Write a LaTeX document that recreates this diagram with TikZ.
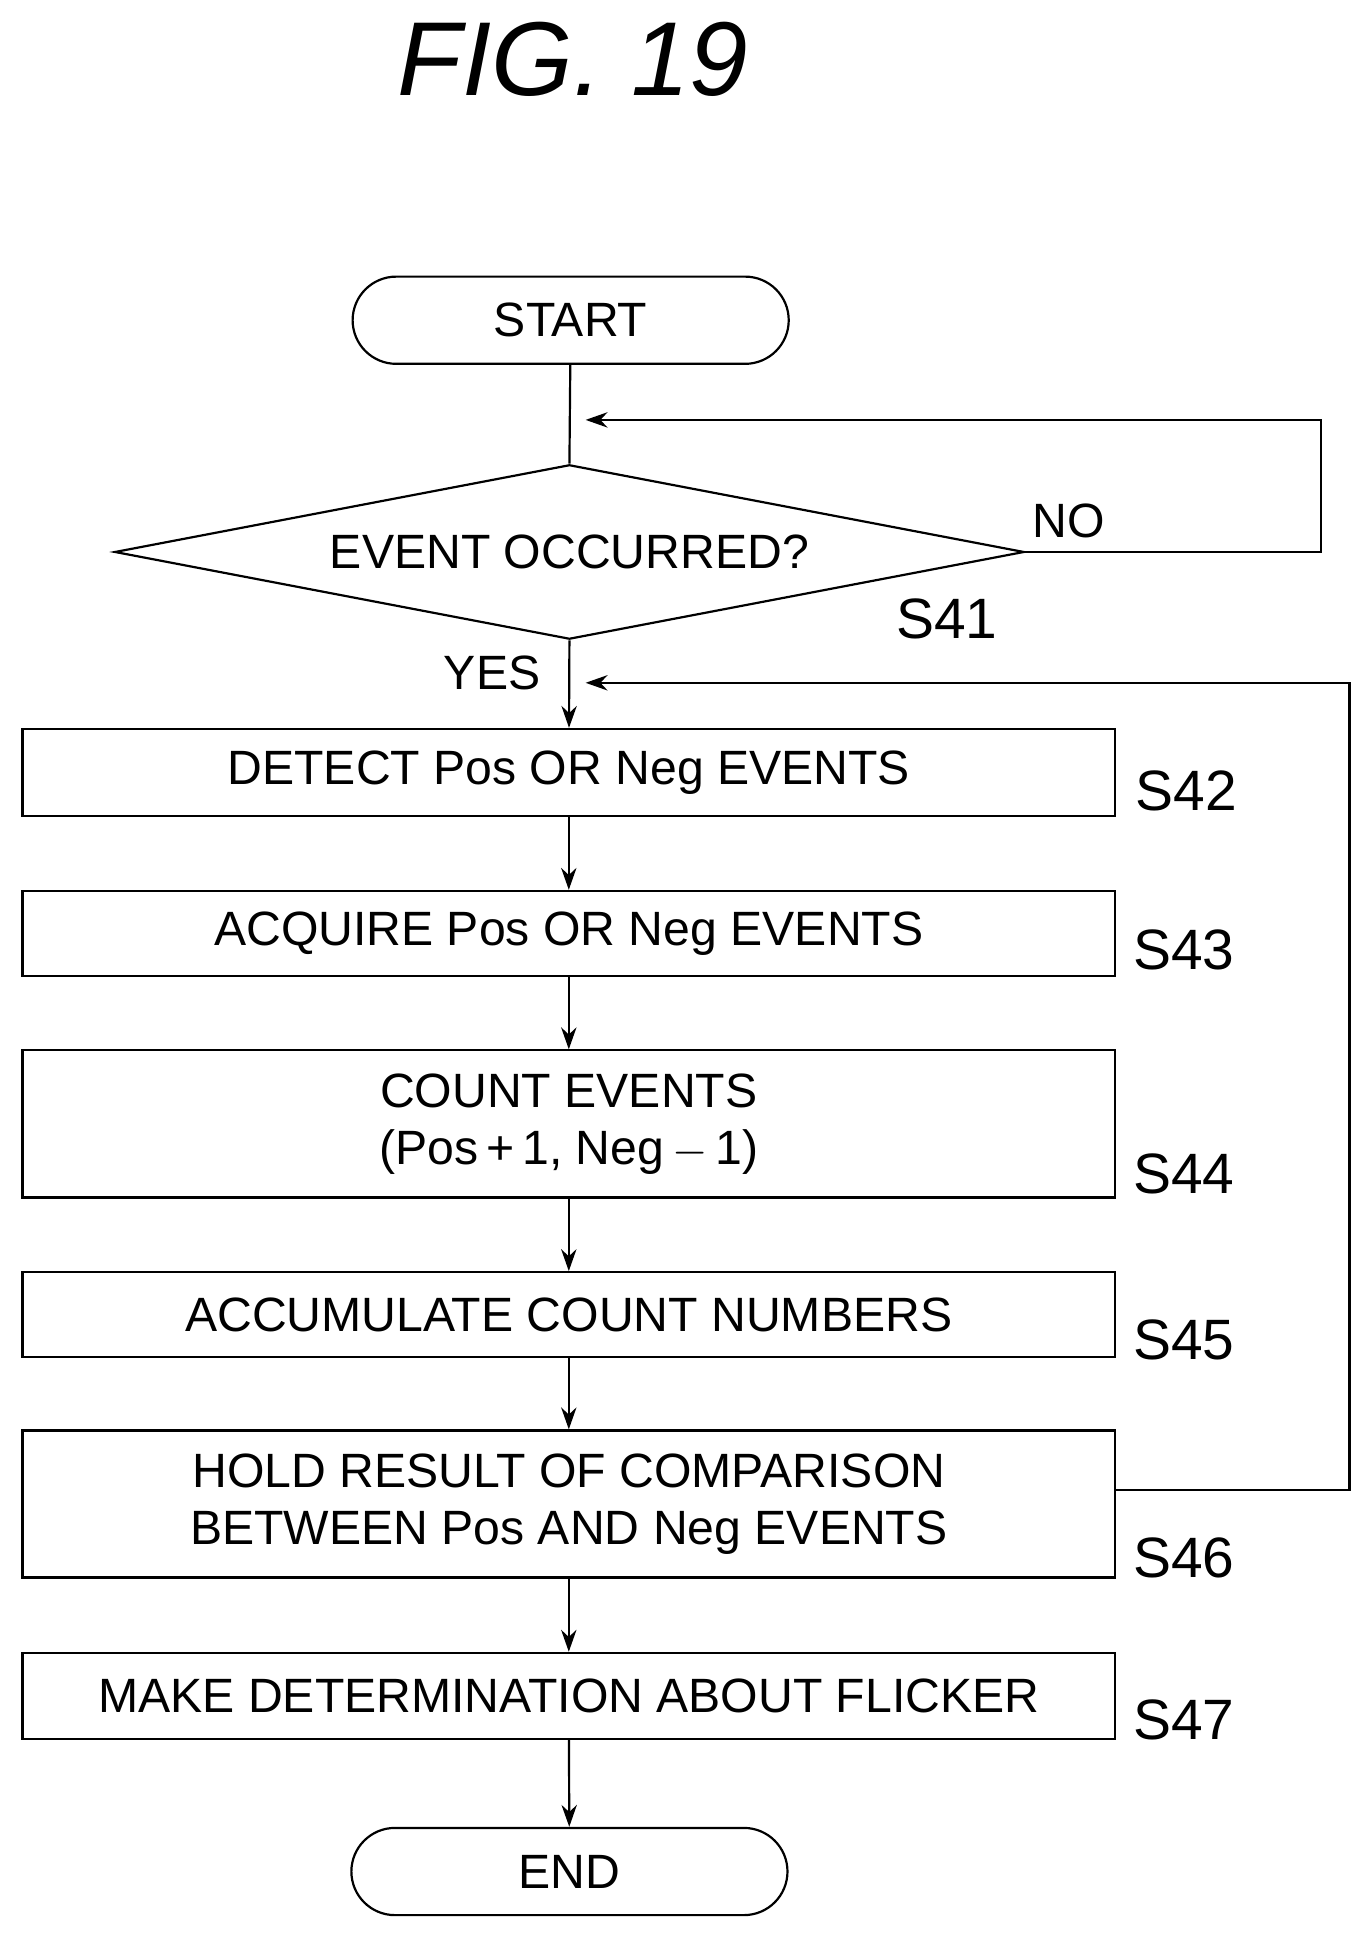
\documentclass[tikz,border=0pt]{standalone}
\usepackage{fontspec}
\setmainfont{Liberation Sans}
\usetikzlibrary{shapes.geometric,arrows.meta}
\begin{document}
\begin{tikzpicture}[x=0.02cm,y=-0.02cm,
  every node/.style={font=\fontsize{22}{26}\selectfont},
  box/.style={draw,line width=1pt,minimum width=877*0.02cm,align=center,inner sep=0pt},
  term/.style={draw,line width=1pt,rounded corners=35*0.02cm,minimum width=350*0.02cm,minimum height=70*0.02cm},
  lab/.style={font=\fontsize{26}{30}\selectfont},
  line/.style={line width=1pt},
  arr/.style={line,-{Stealth[length=10pt,width=7pt]}}]
\useasboundingbox (0,0) rectangle (1100,1565);
\node[font=\fontsize{48}{56}\selectfont\itshape] (title) at (460,48) {FIG. 19};
\node[term] (start) at (458,257) {START};
\node[draw,line width=1pt,diamond,aspect=5.2,minimum width=730*0.02cm,minimum height=140*0.02cm,inner sep=0pt] (dec) at (457,443) {};
\node (dect) at (457,443) {EVENT OCCURRED?};
\node[box,minimum height=70*0.02cm] (s42) at (456.5,620) {DETECT Pos OR Neg EVENTS};
\node[box,minimum height=68*0.02cm] (s43) at (456.5,749) {ACQUIRE Pos OR Neg EVENTS};
\node[box,minimum height=118*0.02cm] (s44) at (456.5,902) {COUNT EVENTS\\(Pos\,+\,1, Neg\,$-$\,1)};
\node[box,minimum height=68*0.02cm] (s45) at (456.5,1055) {ACCUMULATE COUNT NUMBERS};
\node[box,minimum height=118*0.02cm] (s46) at (456.5,1207) {HOLD RESULT OF COMPARISON\\BETWEEN Pos AND Neg EVENTS};
\node[box,minimum height=69*0.02cm] (s47) at (456.5,1361) {MAKE DETERMINATION ABOUT FLICKER};
\node[term] (end) at (457,1502) {END};
\node[lab] (l41) at (760,497) {S41};
\node[lab] (l42) at (952,635) {S42};
\node[lab] (l43) at (950,762) {S43};
\node[lab] (l44) at (950,942) {S44};
\node[lab] (l45) at (950,1075) {S45};
\node[lab] (l46) at (950,1250) {S46};
\node[lab] (l47) at (950,1380) {S47};
\node (no) at (858,418) {NO};
\node (yes) at (395,540) {YES};
\coordinate (b46) at (895,1196);
\draw[line] (start) -- (dec.north);
\draw[arr] (dec.east) -- (1060,443) -- (1060,337) -- (470,337);
\draw[arr] (dec.south) -- (s42);
\draw[arr] (b46) -- (1083,1196) -- (1083,548) -- (470,548);
\draw[arr] (s42) -- (s43);
\draw[arr] (s43) -- (s44);
\draw[arr] (s44) -- (s45);
\draw[arr] (s45) -- (s46);
\draw[arr] (s46) -- (s47);
\draw[arr] (s47) -- (end);
\end{tikzpicture}
\end{document}
